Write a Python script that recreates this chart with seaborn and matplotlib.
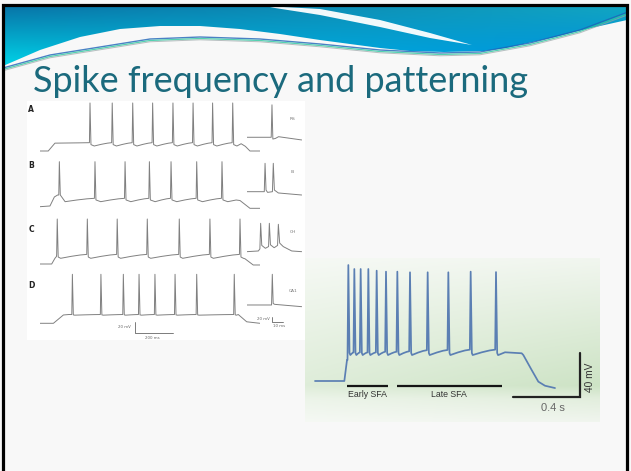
import numpy as np
import pandas as pd
import seaborn as sns
import matplotlib
matplotlib.use("Agg")
import matplotlib.pyplot as plt
from matplotlib.patches import Polygon, Rectangle

sns.set_theme(style="white")
plt.rcParams['font.family'] = ['DejaVu Sans']

W, H = 631, 471

# ------------------------------------------------------------------ data
title = "Spike frequency and patterning"
row_labels = ["A", "B", "C", "D"]
inset_labels = ["RS", "IB", "CH", "CA1"]

# Left figure, main traces (time in ms, voltage in mV)
a_spikes = [261, 377, 484, 588, 694, 799, 901, 1006]
a_pre_t, a_pre_v = [0, 43, 78, 200], [-70, -70, -56.5, -56.0]
a_post_t, a_post_v = [1050, 1072, 1096, 1148], [-57.5, -62, -70, -70]

b_spikes = [101, 287, 444, 571, 684, 818, 950]
b_pre_t, b_pre_v = [0, 52, 75, 92], [-68.6, -67.4, -51.9, -48.5]
b_post_t, b_post_v = [1024, 1044, 1096, 1148], [-57.1, -58, -71.4, -71.4]

c_spikes = [90, 247, 403, 560, 727, 887, 1044]
c_pre_t, c_pre_v = [0, 61, 78, 86], [-70, -70, -60.2, -57]
c_post_t, c_post_v = [1070, 1113, 1148], [-61, -71.7, -71.7]

d_spikes = [169, 318, 435, 517, 600, 705, 818, 1014]
d_pre_t, d_pre_v = [0, 70, 122, 150], [-70, -70, -55.7, -54.9]
d_post_t, d_post_v = [1035, 1079, 1148], [-54.9, -67.4, -70]

# insets (ms, mV)
ia_t = [0, 22.3, 23.0, 23.8, 26, 29, 35, 50]
ia_v = [-46.4, -46.4, 9.4, -49.4, -48.5, -45.4, -47, -51]
ib_t = [0, 16.0, 16.7, 17.6, 19, 23.4, 24.2, 25.2, 28.8, 50]
ib_v = [-42.8, -42.8, 6, -40, -44, -42.8, 6, -40, -45, -48.5]
ic_t = [0, 10.6, 12.0, 12.7, 13.7, 17, 19.9, 20.6, 21.6, 25, 28.1, 28.8, 30, 33.3, 41, 50]
ic_v = [-48.8, -47.6, -44, 0, -38, -43, -40, 0, -37, -42, -38, -1.7, -34, -40.1, -47.6, -48.8]
id_t = [0, 22.6, 23.3, 24.1, 25.5, 50]
id_v = [-38.5, -38.5, 14.3, -36, -37.4, -41.4]

# Right figure (ms, mV)
r_spikes = [200, 236, 274, 320, 370, 426, 494, 570, 676, 800, 934, 1086]
r_peaks = [35.4, 31.8, 31.8, 31.8, 30.3, 29.4, 29.4, 28.8, 28.8, 28.8, 29.4, 29.0]
r_pres = [-50.9, -44.0, -44.0, -44.0, -44.0, -43.4, -43.4, -43.0, -42.0, -41.8, -41.5, -41.5]
r_pre_t, r_pre_v = [0, 176, 192], [-70, -70, -50.9]
r_post_t = [1100, 1140, 1240, 1250, 1300, 1340, 1380, 1440]
r_post_v = [-46.4, -43.9, -44.8, -46.4, -60, -70.6, -74.3, -76.4]
sfa_labels = ["Early SFA", "Late SFA"]
sfa_start = [190, 490]
sfa_end = [440, 1120]


def spike_train(spikes, peak, pre, post, ahp, ahp_dt, w_up, w_dn):
    n = len(spikes)
    peak = peak if np.ndim(peak) else [peak] * n
    pre = pre if np.ndim(pre) else [pre] * n
    post = post if np.ndim(post) else [post] * n
    ts, vs = [], []
    for i, s in enumerate(spikes):
        ts += [s - w_up, s, s + w_dn, s + ahp_dt]
        vs += [pre[i], peak[i], post[i], ahp]
        if i < n - 1:
            nxt = spikes[i + 1]
            gap = nxt - w_up - (s + ahp_dt)
            ts += [s + ahp_dt + 0.4 * gap, s + ahp_dt + 0.75 * gap]
            vs += [ahp + 0.5 * (pre[i + 1] - ahp), ahp + 0.85 * (pre[i + 1] - ahp)]
    return ts, vs


def full_trace(pre_t, pre_v, train, post_t, post_v):
    t = list(pre_t) + train[0] + list(post_t)
    v = list(pre_v) + train[1] + list(post_v)
    return pd.DataFrame({"t": t, "v": v})


tr_a = full_trace(a_pre_t, a_pre_v, spike_train(a_spikes, 12.6, -55.7, -59, -61.4, 22, 3, 5), a_post_t, a_post_v)
tr_b = full_trace(b_pre_t, b_pre_v,
                  spike_train(b_spikes, 8.8, [-48.5] + [-54.2] * 6, [-48.5] + [-57] * 6, -60, 30, 3, 5),
                  b_post_t, b_post_v)
tr_c = full_trace(c_pre_t, c_pre_v, spike_train(c_spikes, 7.4, -53.5, -58, -60.2, 18, 3, 5), c_post_t, c_post_v)
tr_d = full_trace(d_pre_t, d_pre_v, spike_train(d_spikes, 14.3, -54.9, -55.5, -56, 12, 3, 5), d_post_t, d_post_v)
tr_r = full_trace(r_pre_t, r_pre_v, spike_train(r_spikes, r_peaks, r_pres, -44.5, -46.4, 12, 5, 7),
                  r_post_t, r_post_v)

mains = [tr_a, tr_b, tr_c, tr_d]
insets = [pd.DataFrame({"t": ia_t, "v": ia_v}), pd.DataFrame({"t": ib_t, "v": ib_v}),
          pd.DataFrame({"t": ic_t, "v": ic_v}), pd.DataFrame({"t": id_t, "v": id_v})]

# ------------------------------------------------------------------ layout
fig = plt.figure(figsize=(W / 100, H / 100), dpi=100)
fig.patch.set_facecolor("#f8f8f8")

bg = fig.add_axes([0, 0, 1, 1], zorder=0)
bg.set_xlim(0, W)
bg.set_ylim(H, 0)
bg.axis("off")


def hexrgb(h):
    return np.array([int(h[i:i + 2], 16) for i in (1, 3, 5)]) / 255.0


# header gradient
yy, xx = np.mgrid[0:72, 0:W]
fy_l = np.clip((yy - 6) / 58.0, 0, 1)[..., None]
fy_r = np.clip((yy - 6) / 44.0, 0, 1)[..., None]
left = (1 - fy_l) * hexrgb("#0874a8") + fy_l * hexrgb("#00d2e6")
right = (1 - fy_r) * hexrgb("#12a6c2") + fy_r * hexrgb("#0092da")
fx = (xx / (W - 1.0))[..., None]
hdr = np.clip((1 - fx) * left + fx * right, 0, 1)

wave = [(3, 6), (627, 6), (627, 20), (600, 26), (578, 31), (555, 37), (528, 43), (506, 48), (484, 51),
        (444, 52), (410, 51), (380, 48), (350, 44), (320, 40), (280, 34), (240, 29), (200, 26),
        (160, 26), (120, 29), (80, 37), (40, 50), (3, 66)]
wpoly = Polygon(wave, closed=True, facecolor="none", edgecolor="none", transform=bg.transData)
bg.add_patch(wpoly)
im = bg.imshow(hdr, extent=(0, W, 72, 0), aspect="auto", zorder=1, interpolation="bilinear")
im.set_clip_path(wpoly)

stripe = [(265, 6), (320, 9), (380, 20), (430, 33), (472, 45), (430, 38), (380, 27), (320, 15), (275, 8)]
bg.add_patch(Polygon(stripe, closed=True, facecolor="white", edgecolor="none", zorder=2, alpha=0.95))

lx = [3, 50, 100, 150, 200, 260, 320, 380, 440, 480, 530, 580, 628]
ly = [68, 55, 47, 39, 37, 39, 44, 50, 53, 52, 43, 30, 12]
bg.plot(lx, ly, color="#1e64b8", lw=1.0, zorder=3, alpha=0.8)
bg.plot(lx, [y + 1.5 for y in ly], color="#2cc8a0", lw=0.9, zorder=3, alpha=0.8)
bg.plot(lx, [y + 2.8 for y in ly], color="#9aa6a8", lw=0.7, zorder=3, alpha=0.7)

# slide frame
bg.plot([2.5, 2.5, 626.5, 626.5], [H + 5, 5, 5, H + 5], color="black", lw=2.3, zorder=5,
        solid_joinstyle="miter")

# title
bg.text(33, 92, title, fontsize=26, color="#1b6a7d", family=["Lato", "DejaVu Sans"],
        va="baseline", ha="left", zorder=6)

# left figure white background
bg.add_patch(Rectangle((27, 101), 278, 239, facecolor="white", edgecolor="none", zorder=1))

# right figure green background
gy, gx = np.mgrid[0:164, 0:295]
stops_y = [0, 0.45, 0.78, 0.86, 1.0]
stops_c = [hexrgb(c) for c in ["#f1f6ef", "#dcebd6", "#cde3c5", "#e2eedd", "#f0f5ee"]]
fyy = gy / 163.0
grad = np.zeros(gy.shape + (3,))
for k in range(3):
    grad[..., k] = np.interp(fyy, stops_y, [c[k] for c in stops_c])
lighten = (0.35 * (1 - gx / 294.0))[..., None]
grad = np.clip(grad * (1 - lighten) + lighten, 0, 1)
bg.imshow(grad, extent=(305, 600, 422, 258), aspect="auto", zorder=1, interpolation="bilinear")
bg.set_xlim(0, W)
bg.set_ylim(H, 0)


def px_axes(x0, y0, x1, y1, xlim, ylim):
    ax = fig.add_axes([x0 / W, 1 - y1 / H, (x1 - x0) / W, (y1 - y0) / H], zorder=2)
    ax.set_xlim(*xlim)
    ax.set_ylim(*ylim)
    ax.axis("off")
    ax.patch.set_alpha(0)
    return ax


# left figure rows
bases = [151, 207.5, 264, 323.3]
mv_px = 1.72
for i, base in enumerate(bases):
    top, bot = base - 53, base + 12
    ylim = (-70 - 12 * mv_px, -70 + 53 * mv_px)
    axm = px_axes(40, top, 260, bot, (0, 220 * 5.22), ylim)
    sns.lineplot(data=mains[i], x="t", y="v", ax=axm, sort=False, estimator=None,
                 color="#808080", linewidth=0.7)
    axm.set_xlim(0, 220 * 5.22)
    axm.set_ylim(*ylim)
    axm.axis("off")
    axi = px_axes(246.7, top, 301.7, bot, (0, 55 * 0.91), ylim)
    sns.lineplot(data=insets[i], x="t", y="v", ax=axi, sort=False, estimator=None,
                 color="#808080", linewidth=0.7)
    axi.set_xlim(0, 55 * 0.91)
    axi.set_ylim(*ylim)
    axi.axis("off")
    if i == 3:
        axm.plot([496, 496, 696], [-67.2, -87.2, -87.2], color="#666666", lw=0.6, clip_on=False)
        axi.plot([23.3, 23.3, 33.3], [-58.6, -68.3, -68.3], color="#666666", lw=0.6, clip_on=False)

lab_pos = [(31, 110), (31, 166), (31, 229), (31, 286)]
for lab, (x, y) in zip(row_labels, lab_pos):
    bg.text(x, y, lab, fontsize=5.5, fontweight="bold", color="#222222", ha="center", va="center", zorder=6)
ins_pos = [(292.7, 119), (292.7, 172), (292.7, 231.7), (292.7, 291)]
for lab, (x, y) in zip(inset_labels, ins_pos):
    bg.text(x, y, lab, fontsize=3.2, color="#777777", ha="center", va="center", zorder=6)
bg.text(124, 327, "20 mV", fontsize=2.8, color="#666666", ha="center", va="center", zorder=6)
bg.text(152, 337.7, "200 ms", fontsize=2.8, color="#666666", ha="center", va="center", zorder=6)
bg.text(263, 319, "20 mV", fontsize=2.8, color="#666666", ha="center", va="center", zorder=6)
bg.text(279, 326, "10 ms", fontsize=2.8, color="#666666", ha="center", va="center", zorder=6)

# right figure
r_mv = 0.909
axr = px_axes(305, 258, 600, 422, ((305 - 315) * 6, (600 - 315) * 6),
              (-70 - 41 * r_mv, -70 + 123 * r_mv))
sns.lineplot(data=tr_r, x="t", y="v", ax=axr, sort=False, estimator=None,
             color="#5b7fb3", linewidth=1.25)
axr.set_xlim((305 - 315) * 6, (600 - 315) * 6)
axr.set_ylim(-70 - 41 * r_mv, -70 + 123 * r_mv)
axr.axis("off")
for s, e in zip(sfa_start, sfa_end):
    axr.plot([s, e], [-74.5, -74.5], color="#151515", lw=1.6, solid_capstyle="butt")
axr.plot([1190, 1590, 1590], [-84.3, -84.3, -44.3], color="#222222", lw=1.6, solid_joinstyle="miter")
for lab, s, e in zip(sfa_labels, sfa_start, sfa_end):
    axr.text((s + e) / 2, -82.7, lab, fontsize=6.3, color="#333333", ha="center", va="center",
             family=["Liberation Sans", "DejaVu Sans"])
bg.text(552.7, 408.3, "0.4 s", fontsize=8, color="#666666", ha="center", va="center", zorder=6,
        family=["Liberation Sans", "DejaVu Sans"])
bg.text(590, 377, "40 mV", fontsize=7.3, color="#333333", ha="center", va="center", rotation=90,
        zorder=6, family=["Liberation Sans", "DejaVu Sans"])

fig.savefig("out.png", dpi=100)
